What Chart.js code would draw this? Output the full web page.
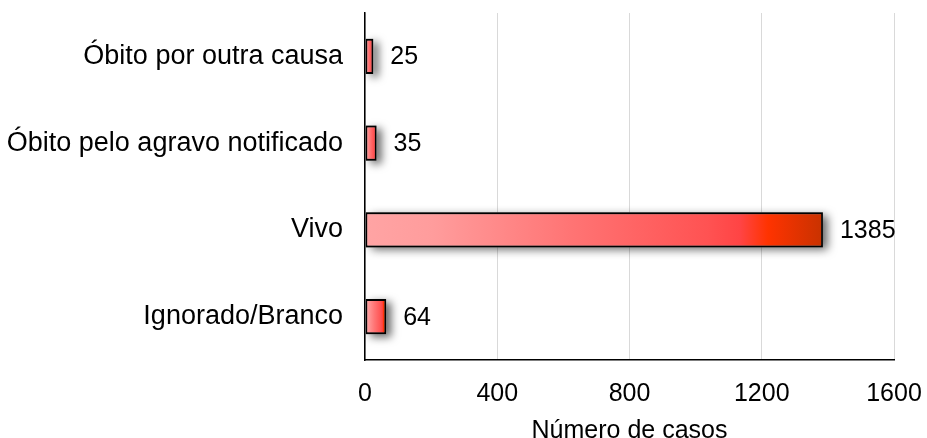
<!DOCTYPE html>
<html>
<head>
<meta charset="utf-8">
<script src="https://cdn.jsdelivr.net/npm/chart.js@4"></script>
<style>
  html, body { margin: 0; padding: 0; background: #fff; }
  #wrap { width: 927px; height: 438px; }
</style>
</head>
<body>
<div id="wrap"><canvas id="chart"></canvas></div>
<script>
// ==========================
// DATOS
// ==========================
const categorias = ["Óbito por outra causa", "Óbito pelo agravo notificado", "Vivo", "Ignorado/Branco"];
const casos = [25, 35, 1385, 64];
const ticksX = [0, 400, 800, 1200, 1600];
const tituloX = "Número de casos";

const FONTE = "'Liberation Sans', Arial, sans-serif";

// gradiente por barra (rosa claro -> vermelho -> vermelho escuro)
function barGradient(c){
    const chart = c.chart;
    const sx = chart.scales.x;
    if(!sx || c.raw === undefined) return "#ff6060";
    const x0 = sx.getPixelForValue(0);
    const x1 = sx.getPixelForValue(c.raw);
    if(!isFinite(x0) || !isFinite(x1) || x1 <= x0) return "#ff6060";
    const g = chart.ctx.createLinearGradient(x0, 0, x1, 0);
    g.addColorStop(0, "#ffa4a4");
    g.addColorStop(0.15, "#ff9c9c");
    g.addColorStop(0.45, "#ff7474");
    g.addColorStop(0.75, "#ff5252");
    g.addColorStop(0.82, "#ff4444");
    g.addColorStop(0.88, "#ff3300");
    g.addColorStop(1, "#c83200");
    return g;
}

// sombra atrás das barras (desenhada antes, as barras cobrem o retângulo)
const sombraPlugin = {
    id: "sombra",
    beforeDatasetsDraw(chart){
        const ctx = chart.ctx;
        const meta = chart.getDatasetMeta(0);
        ctx.save();
        ctx.shadowColor = "rgba(0,0,0,0.6)";
        ctx.shadowBlur = 9;
        ctx.shadowOffsetX = 5;
        ctx.shadowOffsetY = 3;
        ctx.fillStyle = "#888";
        meta.data.forEach(bar => {
            const left = Math.min(bar.base, bar.x);
            const w = Math.abs(bar.x - bar.base);
            ctx.fillRect(left, bar.y - bar.height / 2, w, bar.height);
        });
        ctx.restore();
    }
};

// rótulos com os valores
const rotulosPlugin = {
    id: "rotulos",
    afterDatasetsDraw(chart){
        const ctx = chart.ctx;
        const meta = chart.getDatasetMeta(0);
        ctx.save();
        ctx.font = "25px " + FONTE;
        ctx.fillStyle = "#000";
        ctx.textAlign = "left";
        ctx.textBaseline = "middle";
        meta.data.forEach((bar, i) => {
            ctx.fillText(String(casos[i]), bar.x + 17, bar.y + 1);
        });
        ctx.restore();
    }
};

new Chart(document.getElementById("chart"), {
    type: "bar",
    data: {
        labels: categorias,
        datasets: [{
            data: casos,
            backgroundColor: barGradient,
            borderColor: "#000",
            borderWidth: 1.8,
            borderSkipped: false,
            barPercentage: 0.8,
            categoryPercentage: 0.505
        }]
    },
    options: {
        indexAxis: "y",
        responsive: true,
        maintainAspectRatio: false,
        animation: false,
        layout: { padding: { top: 13, right: 33, left: 0, bottom: 0 } },
        plugins: {
            legend: { display: false },
            tooltip: { enabled: false }
        },
        scales: {
            x: {
                min: 0,
                max: 1600,
                afterBuildTicks: s => { s.ticks = ticksX.map(v => ({ value: v })); },
                afterFit: s => { s.height = 78; s.paddingLeft = 0; s.paddingRight = 0; },
                grid: { color: "#d9d9d9", lineWidth: 1, drawTicks: false },
                border: { display: true, color: "#000", width: 1.5 },
                ticks: {
                    color: "#000",
                    padding: 19,
                    maxRotation: 0,
                    callback: v => String(v),
                    font: { family: FONTE, size: 25 }
                },
                title: {
                    display: true,
                    text: tituloX,
                    color: "#000",
                    padding: { top: 0, bottom: -8 },
                    font: { family: FONTE, size: 25 }
                }
            },
            y: {
                afterFit: s => { s.width = 365; s.paddingTop = 0; s.paddingBottom = 0; },
                grid: { drawOnChartArea: false, drawTicks: false },
                border: { display: true, color: "#000", width: 1.5 },
                ticks: {
                    color: "#000",
                    padding: 22,
                    font: { family: FONTE, size: 27 }
                }
            }
        }
    },
    plugins: [sombraPlugin, rotulosPlugin]
});
</script>
</body>
</html>
